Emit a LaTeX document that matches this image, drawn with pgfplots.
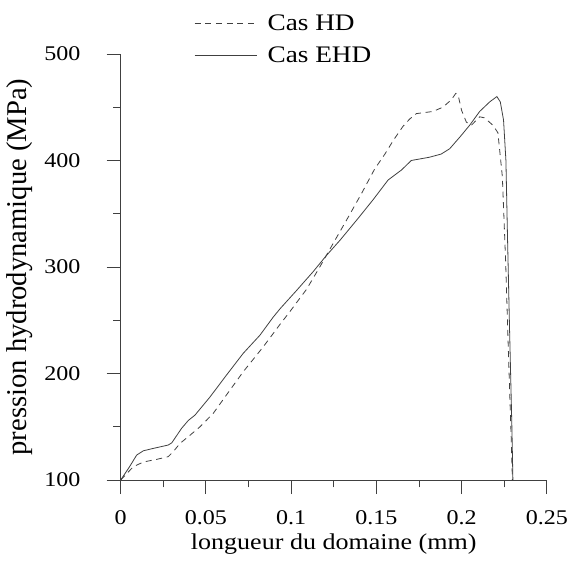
\documentclass[border=0pt]{standalone}
\usepackage{pgfplots}
\pgfplotsset{compat=1.18}
\usepackage{fontspec}
\setmainfont{Liberation Serif}[FakeStretch=1.15]
\newfontfamily\ylabfont{Liberation Serif}
\begin{document}
\begin{tikzpicture}
\useasboundingbox (-90.6pt,-63.8pt) rectangle (337.4pt,360.5pt);
\begin{axis}[
  at={(0,0)}, anchor=south west,
  scale only axis,
  width=320pt, height=320pt,
  xmin=0, xmax=0.25, ymin=100, ymax=500,
  axis lines=left,
  axis line style={-, black!75, line width=0.6pt},
  every tick/.style={black!75, line width=0.6pt},
  tick align=outside,
  major tick length=10.5pt,
  minor tick length=5.5pt,
  minor tick num=1,
  xtick={0,0.05,0.1,0.15,0.2,0.25},
  ytick={100,200,300,400,500},
  scaled x ticks=false,
  xticklabel style={/pgf/number format/fixed,/pgf/number format/precision=2, inner sep=0.5pt, yshift=-11.5pt},
  yticklabel style={inner sep=0.5pt, xshift=-19pt},
  /pgf/number format/assume math mode=true,
  tick label style={font=\fontsize{15.7}{19}\selectfont},
  xlabel={longueur du domaine (mm)},
  ylabel={pression hydrodynamique (MPa)},
  xlabel style={font=\fontsize{17}{20}\selectfont, at={(axis description cs:0.5,-0.149)}, anchor=center, inner sep=0.5pt},
  ylabel style={font=\ylabfont\fontsize{21.5}{24}\selectfont, at={(axis description cs:-0.238,0.5)}, anchor=center, inner sep=0.5pt},
  clip=false,
  legend style={draw=none, fill=none, at={(axis description cs:0.172,0.969)}, anchor=south west,
     font=\fontsize{17.8}{21}\selectfont, row sep=6.8pt, column sep=5.5pt, inner sep=0pt,
     nodes={inner sep=2pt}},
  legend cell align=left,
  legend image code/.code={\draw[#1] (0cm,0cm) -- (47pt,0cm);},
]
\addplot[black!75, line width=0.6pt, dash pattern=on 4.5pt off 3.5pt] coordinates {
(0,100) (0.0035,106) (0.0074,112.5) (0.0133,117) (0.021,119.4) (0.0279,122)
(0.0308,126.6) (0.0348,134.4) (0.0406,142) (0.0465,150) (0.0543,162.6)
(0.0621,180) (0.0719,201.7) (0.0836,225) (0.0934,246) (0.0992,258) (0.109,279)
(0.1168,300) (0.1246,322) (0.1325,344) (0.1413,369) (0.149,392) (0.155,406)
(0.16,419) (0.1656,432) (0.1696,439) (0.1735,444) (0.1832,446) (0.189,450)
(0.194,457) (0.1966,463) (0.198,461) (0.2,447) (0.2028,436) (0.2057,433)
(0.2106,441) (0.2135,440) (0.2184,433) (0.2213,426) (0.2239,385) (0.2258,307)
(0.2276,213) (0.2292,134) (0.2298,100)
};
\addlegendentry{Cas HD}
\addplot[black!75, line width=0.6pt] coordinates {
(0,100) (0.005,112) (0.0094,123.5) (0.0133,127.5) (0.019,129.7) (0.0279,132.9)
(0.030,135) (0.0357,148.5) (0.0397,156) (0.0436,161) (0.0524,178) (0.0621,198.6)
(0.0719,219) (0.0817,236) (0.0895,253) (0.0936,261) (0.1032,278) (0.1129,295.6)
(0.1208,311) (0.1286,325) (0.1393,345.7) (0.148,363) (0.1569,381.7) (0.1647,391)
(0.1705,400) (0.181,403) (0.188,406) (0.193,411) (0.199,422) (0.2047,433)
(0.2106,446) (0.2165,455) (0.2207,460) (0.2227,455) (0.2246,438) (0.226,400)
(0.2268,338) (0.2281,244) (0.2295,150) (0.2301,100)
};
\addlegendentry{Cas EHD}
\end{axis}
\end{tikzpicture}
\end{document}
